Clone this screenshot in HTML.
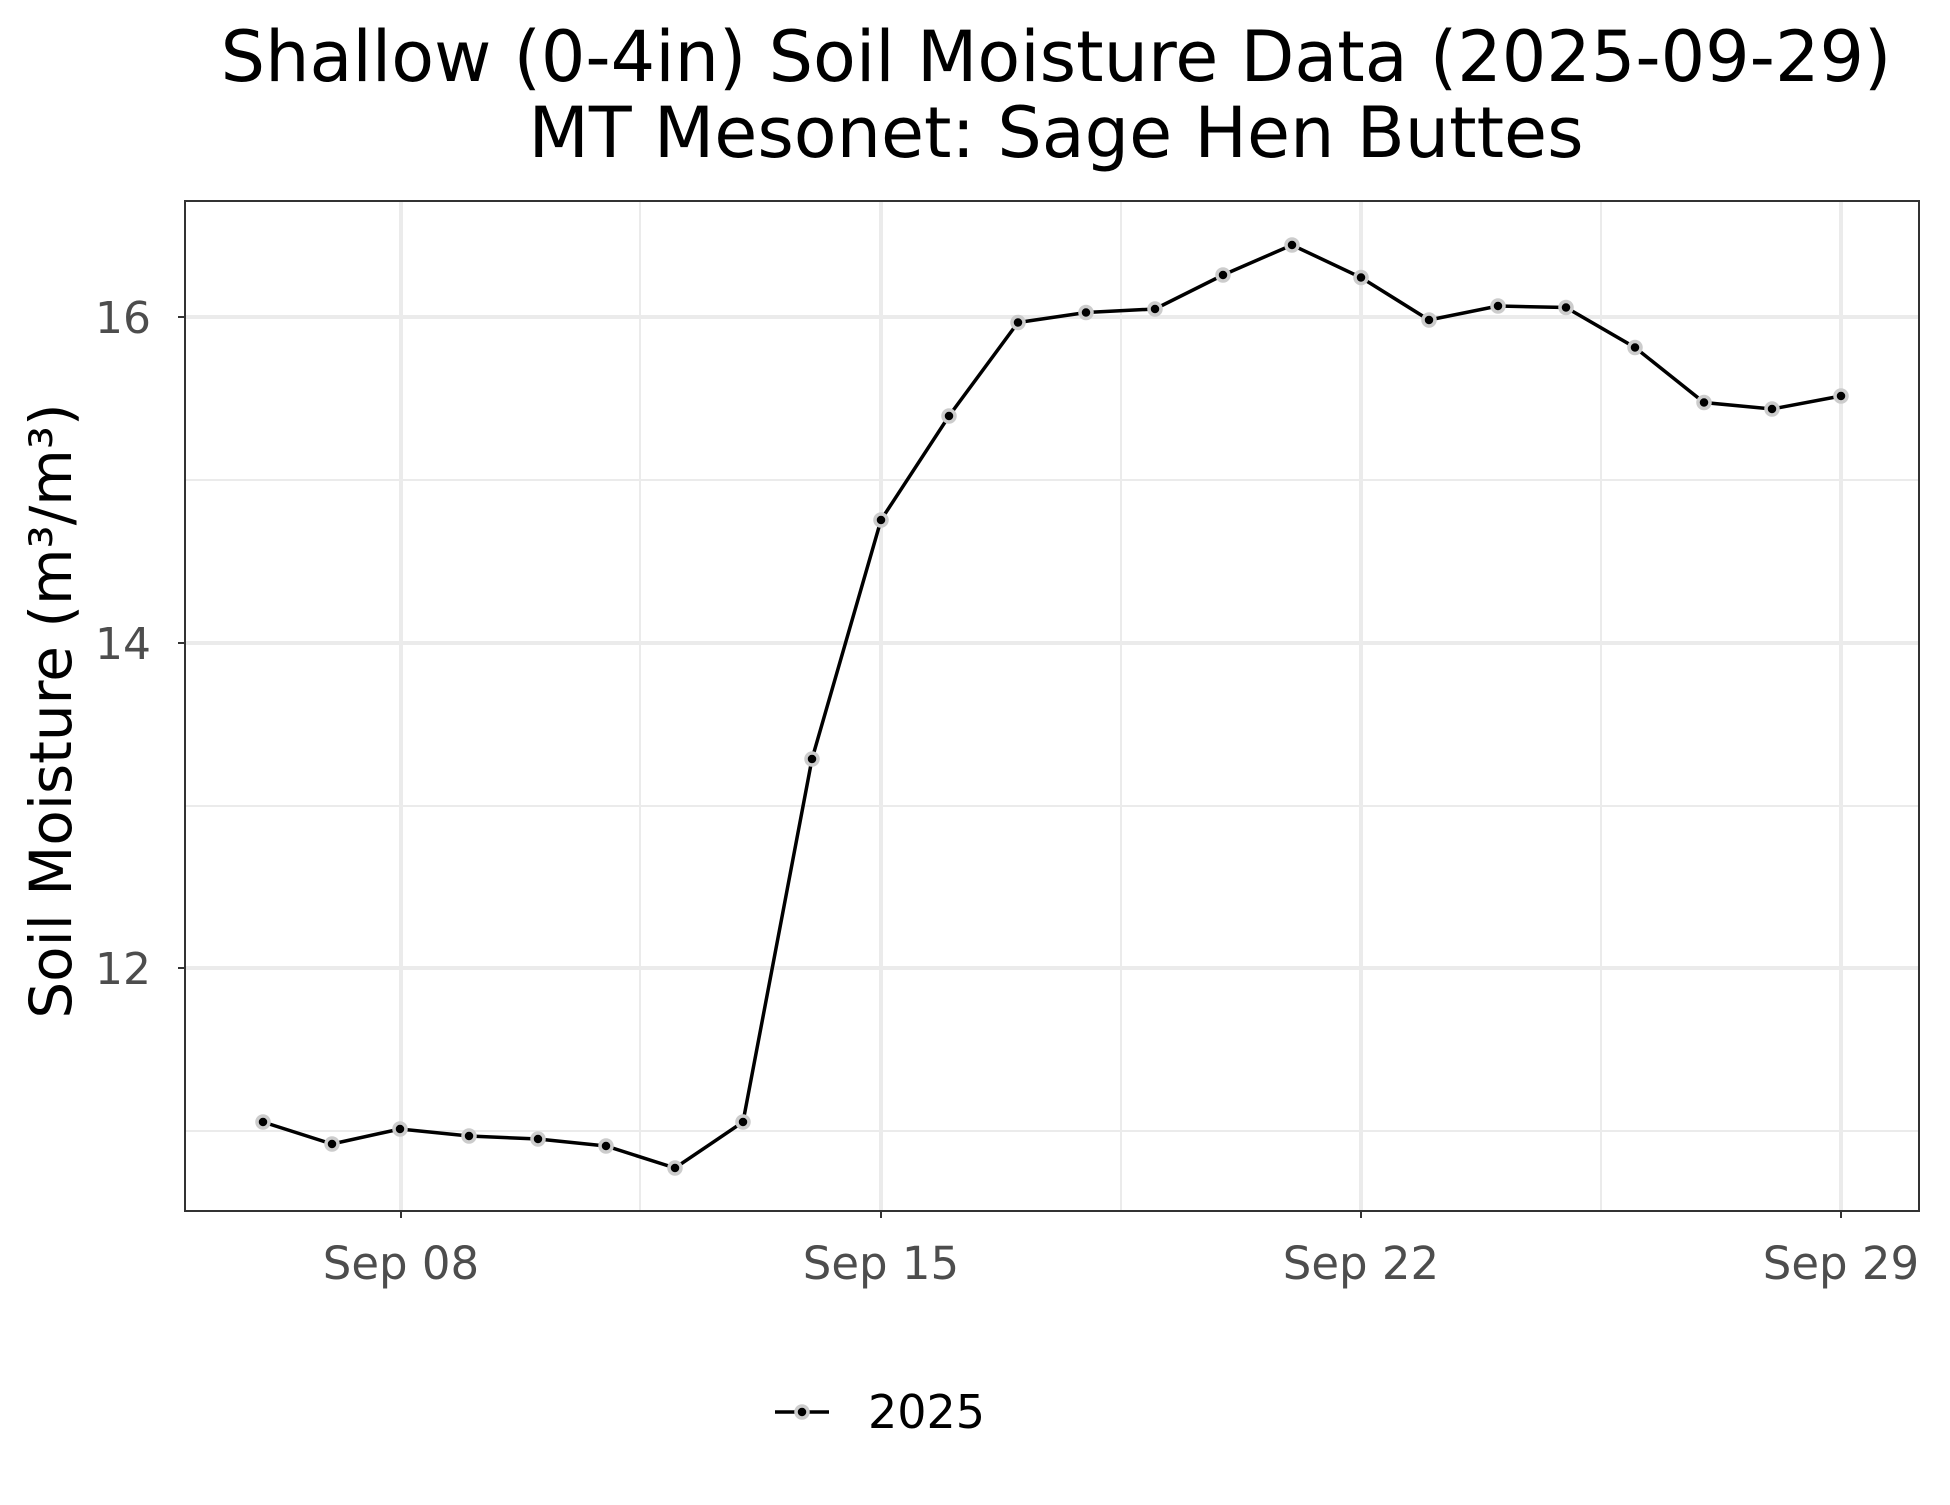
<!DOCTYPE html>
<html><head><meta charset="utf-8"><style>html,body{margin:0;padding:0;background:#fff}</style></head>
<body>
<svg width="1950" height="1500" viewBox="0 0 1950 1500" xmlns="http://www.w3.org/2000/svg" font-family="'DejaVu Sans','Liberation Sans',sans-serif">
<rect width="1950" height="1500" fill="#fff"/>
<text x="1056" y="81" font-size="70" text-anchor="middle" fill="#000">Shallow (0-4in) Soil Moisture Data (2025-09-29)</text>
<text x="1056" y="157" font-size="70" text-anchor="middle" fill="#000">MT Mesonet: Sage Hen Buttes</text>
<g stroke="#ebebeb" stroke-width="2">
<line x1="185" x2="1919" y1="480" y2="480"/><line x1="185" x2="1919" y1="806" y2="806"/><line x1="185" x2="1919" y1="1131" y2="1131"/>
<line x1="640" x2="640" y1="201" y2="1211"/><line x1="1121" x2="1121" y1="201" y2="1211"/><line x1="1601" x2="1601" y1="201" y2="1211"/>
</g>
<g stroke="#ebebeb" stroke-width="4">
<line x1="185" x2="1919" y1="317" y2="317"/><line x1="185" x2="1919" y1="643" y2="643"/><line x1="185" x2="1919" y1="968" y2="968"/>
<line x1="401" x2="401" y1="201" y2="1211"/><line x1="881" x2="881" y1="201" y2="1211"/><line x1="1361" x2="1361" y1="201" y2="1211"/><line x1="1841" x2="1841" y1="201" y2="1211"/>
</g>
<polyline fill="none" stroke="#000" stroke-width="3.5" points="263,1122 332,1144 400,1129 469,1136 538,1139 606,1146 675,1168 743,1122 812,759 881,520 949,416 1018,322.5 1086,312.5 1155,309 1223,275 1292,245 1361,277.5 1429,320 1498,306 1566,307.5 1635,347.5 1704,402.5 1772,409 1841,396"/>
<g fill="#000" stroke="#ccc" stroke-width="3.5">
<circle cx="263" cy="1122" r="6"/><circle cx="332" cy="1144" r="6"/><circle cx="400" cy="1129" r="6"/><circle cx="469" cy="1136" r="6"/><circle cx="538" cy="1139" r="6"/><circle cx="606" cy="1146" r="6"/><circle cx="675" cy="1168" r="6"/><circle cx="743" cy="1122" r="6"/><circle cx="812" cy="759" r="6"/><circle cx="881" cy="520" r="6"/><circle cx="949" cy="416" r="6"/><circle cx="1018" cy="322.5" r="6"/><circle cx="1086" cy="312.5" r="6"/><circle cx="1155" cy="309" r="6"/><circle cx="1223" cy="275" r="6"/><circle cx="1292" cy="245" r="6"/><circle cx="1361" cy="277.5" r="6"/><circle cx="1429" cy="320" r="6"/><circle cx="1498" cy="306" r="6"/><circle cx="1566" cy="307.5" r="6"/><circle cx="1635" cy="347.5" r="6"/><circle cx="1704" cy="402.5" r="6"/><circle cx="1772" cy="409" r="6"/><circle cx="1841" cy="396" r="6"/>
</g>
<rect x="185" y="201" width="1734" height="1010" fill="none" stroke="#333" stroke-width="2"/>
<g stroke="#333" stroke-width="2">
<line x1="178" x2="185" y1="317" y2="317"/><line x1="178" x2="185" y1="643" y2="643"/><line x1="178" x2="185" y1="968" y2="968"/>
<line x1="401" x2="401" y1="1211" y2="1218"/><line x1="881" x2="881" y1="1211" y2="1218"/><line x1="1361" x2="1361" y1="1211" y2="1218"/><line x1="1841" x2="1841" y1="1211" y2="1218"/>
</g>
<g font-size="44" fill="#4d4d4d" text-anchor="end">
<text x="151" y="333">16</text><text x="151" y="659">14</text><text x="151" y="984">12</text>
</g>
<g font-size="45" fill="#4d4d4d" text-anchor="middle">
<text x="401" y="1279">Sep 08</text><text x="881" y="1279">Sep 15</text><text x="1361" y="1279">Sep 22</text><text x="1841" y="1279">Sep 29</text>
</g>
<text transform="translate(71,711) rotate(-90)" font-size="58" text-anchor="middle" fill="#000">Soil Moisture (m³/m³)</text>
<line x1="775" x2="829" y1="1412" y2="1412" stroke="#000" stroke-width="3.5"/>
<circle cx="802" cy="1412" r="6" fill="#000" stroke="#ccc" stroke-width="3.5"/>
<text x="868" y="1428" font-size="46" fill="#000">2025</text>
</svg>
</body></html>
